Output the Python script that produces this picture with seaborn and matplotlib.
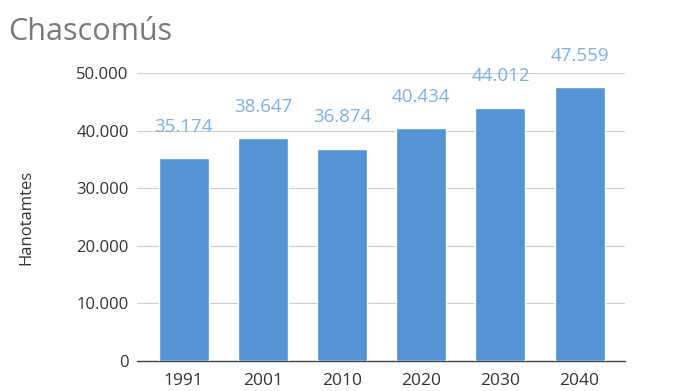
import matplotlib
matplotlib.use("Agg")
import matplotlib.pyplot as plt
import seaborn as sns
import pandas as pd

# DATA
years = ["1991", "2001", "2010", "2020", "2030", "2040"]
habitantes = [35174, 38647, 36874, 40434, 44012, 47559]
yticks = [0, 10000, 20000, 30000, 40000, 50000]

df = pd.DataFrame({"Año": years, "Habitantes": habitantes})


def miles(v):
    return f"{v:,.0f}".replace(",", ".")


sns.set_theme(style="white")
plt.rcParams["font.family"] = ["Open Sans", "DejaVu Sans"]

fig = plt.figure(figsize=(6.82, 3.91), dpi=100)
ax = fig.add_axes([0.201, 0.077, 0.715, 0.736])

sns.barplot(data=df, x="Año", y="Habitantes", color="#5594d4",
            saturation=1, width=0.63, ax=ax, zorder=3)

for i, v in enumerate(habitantes):
    ax.annotate(miles(v), (i, v), xytext=(0, 16), textcoords="offset points",
                ha="center", va="bottom", fontsize=13.5, color="#7fb0de")

ax.set_ylim(0, 50000)
ax.set_xlim(-0.59, 5.57)
ax.set_yticks(yticks)
ax.set_yticklabels([miles(t) for t in yticks], fontsize=12, color="#333333")
ax.tick_params(axis="x", labelsize=12.5, colors="#333333", length=0, pad=9)
ax.tick_params(axis="y", length=0, pad=6)
ax.yaxis.grid(True, color="#cccccc", linewidth=0.8, zorder=0)
for s in ["top", "right", "left"]:
    ax.spines[s].set_visible(False)
ax.spines["bottom"].set_color("#444444")
ax.spines["bottom"].set_linewidth(1.0)

ax.set_xlabel("")
ax.set_ylabel("Hanotamtes", fontsize=12, color="#333333", labelpad=30)

fig.text(0.012, 0.918, "Chascomús", fontsize=22, color="#7a7a7a",
         ha="left", va="center")

fig.savefig("out.png", dpi=100)
